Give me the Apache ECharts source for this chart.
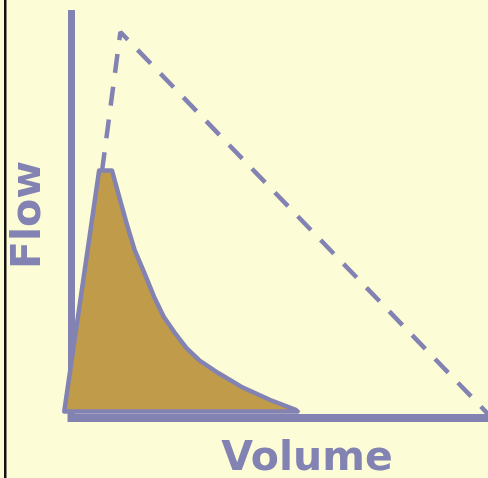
<!DOCTYPE html>
<html>
<head>
<meta charset="utf-8">
<script src="https://cdn.jsdelivr.net/npm/echarts@6/dist/echarts.min.js"></script>
<style>
  html, body { margin: 0; padding: 0; background: #FCFCD6; }
  #chart { width: 488px; height: 478px; }
</style>
</head>
<body>
<div id="chart"></div>
<script>
// Measured flow-volume loop (filled area): volume and flow values
const loopVolume = [-1.74, 6.63, 9.72, 11.67, 13.21, 15.16, 17.49, 19.81, 22.14, 24.84, 27.56, 30.58, 35.23, 40.74, 47.72, 53.84, 54.3];
const loopFlow   = [ 1.6, 61.18, 61.18, 53.9, 48.2, 41.5, 35.85, 29.99, 25.04, 21.01, 17.31, 14.34, 11.12, 7.74, 4.45, 2.0, 1.6];

// Predicted (normal) loop, dashed
const predVolume = [7.33, 11.74, 100];
const predFlow   = [61.06, 95.43, 1];

// Axis names
const xName = 'Volume';
const yName = 'Flow';

const purple = '#8383B3';
const gold = '#C09B4A';

const chart = echarts.init(document.getElementById('chart'), null, { renderer: 'canvas' });

chart.setOption({
  backgroundColor: '#FCFCD6',
  animation: false,
  grid: { left: 71.5, right: -13.5, top: 13.5, bottom: 60, containLabel: false },
  xAxis: {
    type: 'value', min: 0, max: 100,
    axisLine: { show: true, onZero: false, lineStyle: { color: purple, width: 8, cap: 'square' } },
    axisTick: { show: false }, axisLabel: { show: false }, splitLine: { show: false }
  },
  yAxis: {
    type: 'value', min: 0, max: 100,
    axisLine: { show: true, onZero: false, lineStyle: { color: purple, width: 7, cap: 'square' } },
    axisTick: { show: false }, axisLabel: { show: false }, splitLine: { show: false }
  },
  series: [
    {
      type: 'line',
      data: predVolume.map((v, i) => [v, predFlow[i]]),
      symbol: 'none',
      clip: false,
      lineStyle: { color: purple, width: 4.5, type: [19, 14] },
      z: 2
    },
    {
      type: 'custom',
      data: [0],
      clip: false,
      z: 3,
      renderItem: function (params, api) {
        const pts = loopVolume.map((v, i) => api.coord([v, loopFlow[i]]));
        return {
          type: 'polygon',
          shape: { points: pts },
          style: { fill: gold, stroke: purple, lineWidth: 4.5, lineJoin: 'round' }
        };
      }
    }
  ],
  graphic: [
    { type: 'rect', left: 4, top: 0, shape: { width: 2.5, height: 478 }, style: { fill: '#111' } },
    {
      type: 'text', x: 307, y: 459,
      style: { text: xName, fill: purple, font: 'bold 41px "DejaVu Sans"', align: 'center', verticalAlign: 'middle' }
    },
    {
      type: 'text', x: 29, y: 215, rotation: Math.PI / 2,
      style: { text: yName, fill: purple, font: 'bold 41px "DejaVu Sans"', align: 'center', verticalAlign: 'middle' }
    }
  ]
});
</script>
</body>
</html>
